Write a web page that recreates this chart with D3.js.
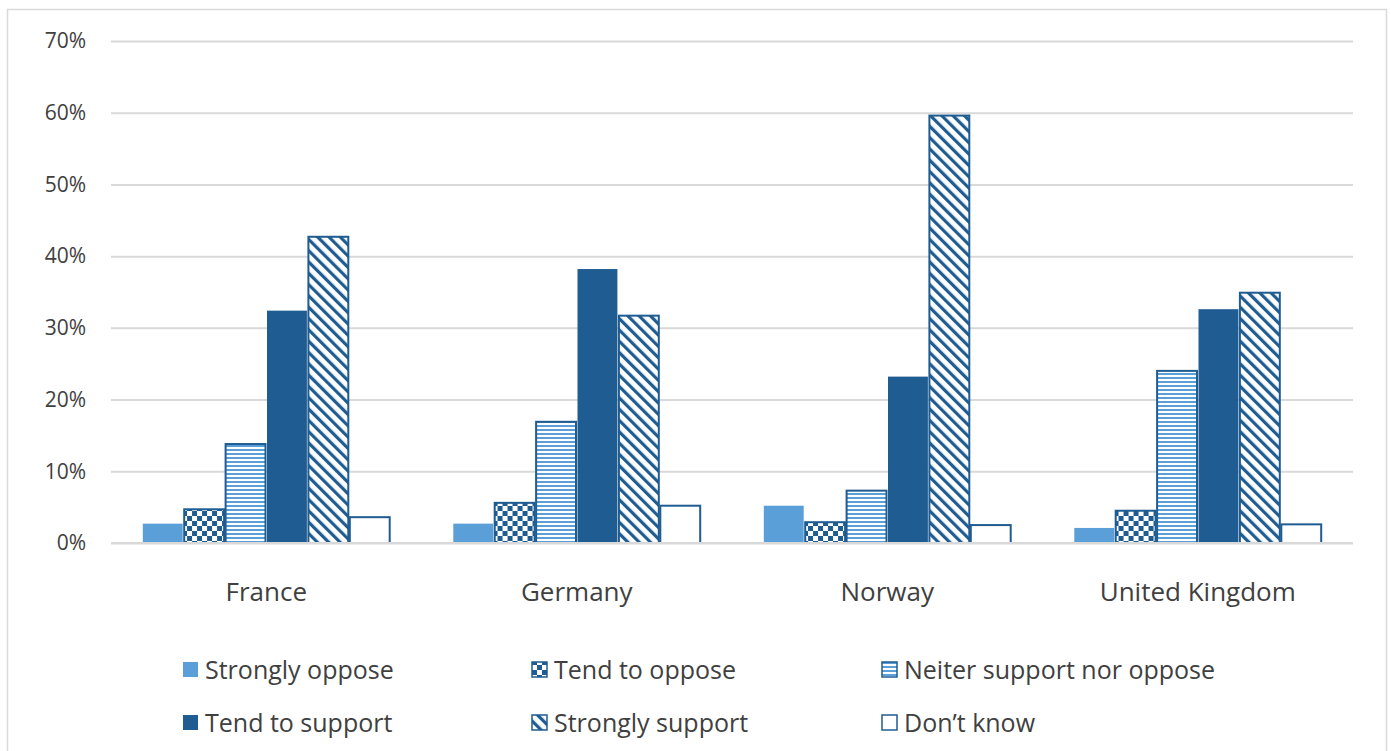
<!DOCTYPE html>
<html>
<head>
<meta charset="utf-8">
<script src="https://cdn.jsdelivr.net/npm/d3@7"></script>
<style>
  body { margin: 0; background: #fff; }
  text { font-family: "Open Sans", Lato, sans-serif; fill: #404040; }
</style>
</head>
<body>
<div id="chart"></div>
<script>
// data
const countries = ["France", "Germany", "Norway", "United Kingdom"];
const answers = ["Strongly oppose", "Tend to oppose", "Neiter support nor oppose",
                 "Tend to support", "Strongly support", "Don\u2019t know"];
const stronglyOppose = [2.7, 2.7, 5.2, 2.1];
const tendOppose = [4.7, 5.6, 2.9, 4.5];
const neither = [13.8, 16.9, 7.3, 24.0];
const tendSupport = [32.4, 38.2, 23.2, 32.6];
const stronglySupport = [42.7, 31.7, 59.6, 34.9];
const dontKnow = [3.6, 5.2, 2.5, 2.6];
const yTicks = [0, 10, 20, 30, 40, 50, 60, 70];

const series = [stronglyOppose, tendOppose, neither, tendSupport, stronglySupport, dontKnow];

const W = 1391, H = 751;
const margin = {top: 41, right: 38, bottom: 208, left: 111};
const dark = "#1f5c91", light = "#5b9fd8";

const svg = d3.select("#chart").append("svg")
    .attr("width", W).attr("height", H);

// patterns
const defs = svg.append("defs");
let p = defs.append("pattern").attr("id", "checker")
    .attr("patternUnits", "userSpaceOnUse").attr("width", 10).attr("height", 10);
p.append("rect").attr("width", 10).attr("height", 10).attr("fill", "#fff");
p.append("rect").attr("width", 5).attr("height", 5).attr("fill", dark);
p.append("rect").attr("x", 5).attr("y", 5).attr("width", 5).attr("height", 5).attr("fill", dark);

p = defs.append("pattern").attr("id", "hlines")
    .attr("patternUnits", "userSpaceOnUse").attr("width", 8).attr("height", 4);
p.append("rect").attr("width", 8).attr("height", 4).attr("fill", "#fff");
p.append("rect").attr("width", 8).attr("height", 2).attr("fill", light);

p = defs.append("pattern").attr("id", "diag")
    .attr("patternUnits", "userSpaceOnUse").attr("width", 8).attr("height", 8)
    .attr("patternTransform", "rotate(-45)");
p.append("rect").attr("width", 8).attr("height", 8).attr("fill", "#fff");
p.append("rect").attr("width", 3.2).attr("height", 8).attr("fill", dark);

const fills = [light, "url(#checker)", "url(#hlines)", dark, "url(#diag)", "#fff"];
const strokes = ["none", dark, dark, "none", dark, dark];

// outer frame
svg.append("path")
    .attr("d", `M7.5,${H} V9.5 H1386.5 V${H}`)
    .attr("fill", "none").attr("stroke", "#d9d9d9").attr("stroke-width", 1.5);

const g = svg.append("g").attr("transform", `translate(${margin.left},${margin.top})`);
const iw = W - margin.left - margin.right, ih = H - margin.top - margin.bottom;

const x0 = d3.scaleBand().domain(countries).range([0, iw]).paddingInner(0.2).paddingOuter(0.1);
const x1 = d3.scaleBand().domain(d3.range(answers.length)).range([0, x0.bandwidth()]);
const y = d3.scaleLinear().domain([0, 70]).range([ih, 0]);

// grid + y labels
const yAxis = g.append("g")
    .call(d3.axisLeft(y).tickValues(yTicks).tickSize(-iw).tickFormat(d => d + "%"));
yAxis.select(".domain").remove();
yAxis.selectAll(".tick line").attr("stroke", "#d9d9d9").attr("stroke-width", 2);
yAxis.selectAll(".tick text").attr("x", -25).style("font-size", "21px").attr("fill", "#404040");

// bars
const groups = g.selectAll(".country").data(countries).join("g")
    .attr("transform", d => `translate(${x0(d)},0)`);
groups.selectAll("rect")
  .data((c, ci) => series.map((s, si) => ({si, v: s[ci]})))
  .join("rect")
    .attr("x", d => x1(d.si) + 0.75)
    .attr("y", d => y(d.v))
    .attr("width", x1.bandwidth() - 1.5)
    .attr("height", d => ih - y(d.v))
    .attr("fill", d => fills[d.si])
    .attr("stroke", d => strokes[d.si])
    .attr("stroke-width", 2);

// x axis line + labels
g.append("line").attr("x1", 0).attr("x2", iw).attr("y1", ih).attr("y2", ih)
    .attr("stroke", "#d9d9d9").attr("stroke-width", 2);
const xAxis = g.append("g").attr("transform", `translate(0,${ih})`)
    .call(d3.axisBottom(x0).tickSize(0).tickPadding(40));
xAxis.select(".domain").remove();
xAxis.selectAll(".tick text").style("font-size", "26px").attr("fill", "#404040");

// legend
const legendCols = [183, 532, 882], legendRows = [670, 723];
const leg = svg.selectAll(".legend").data(answers).join("g")
    .attr("transform", (d, i) => `translate(${legendCols[i % 3]},${legendRows[Math.floor(i / 3)]})`);
leg.append("rect")
    .attr("x", 0).attr("y", -8).attr("width", 15).attr("height", 15)
    .attr("fill", (d, i) => fills[i])
    .attr("stroke", (d, i) => strokes[i]).attr("stroke-width", 1.5);
leg.append("text")
    .attr("x", 22).attr("y", 0).attr("dy", "0.35em")
    .style("font-size", "25px")
    .text(d => d);
</script>
</body>
</html>
